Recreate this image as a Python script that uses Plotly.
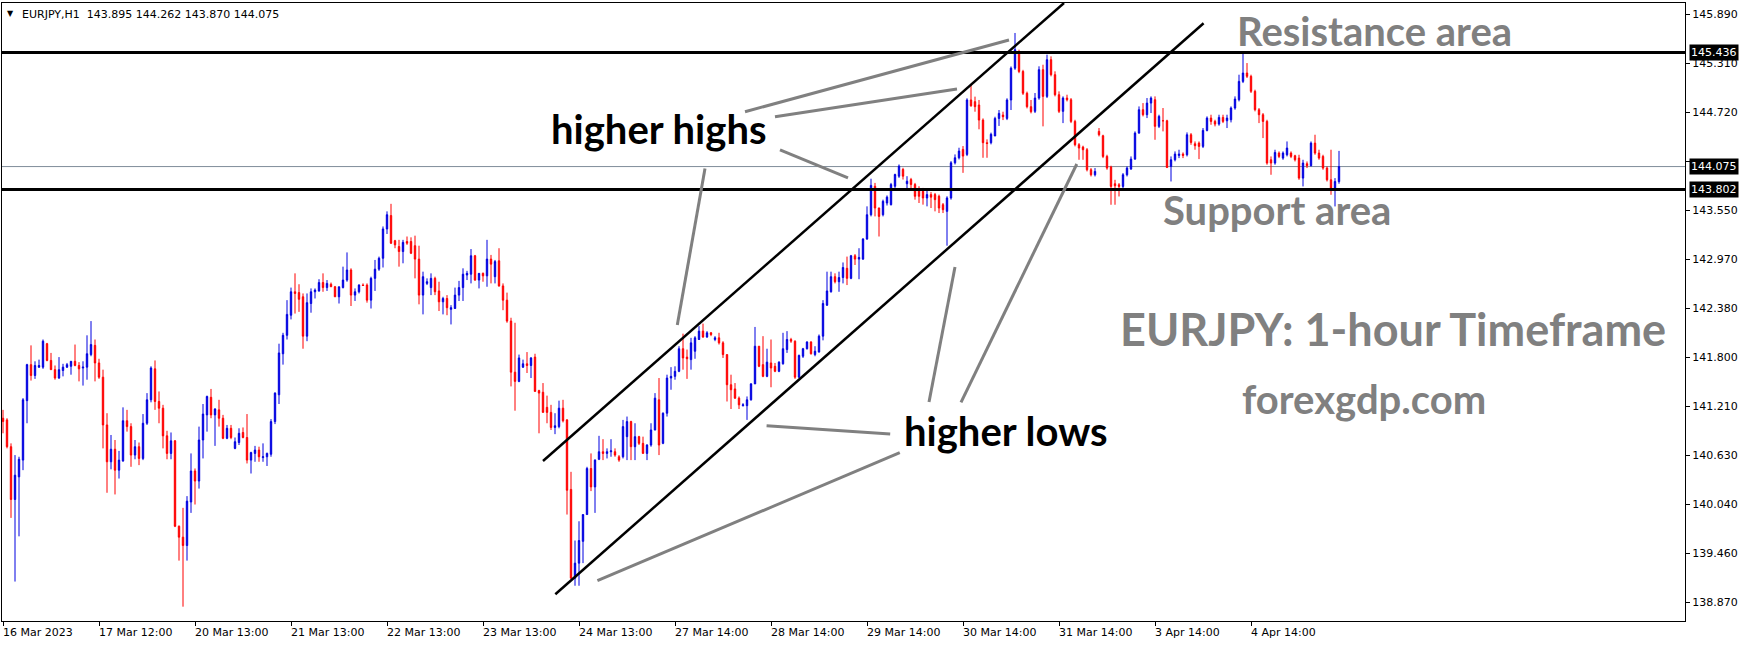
import plotly.graph_objects as go

# ---------------- data ----------------
x_tick_labels = ["16 Mar 2023", "17 Mar 12:00", "20 Mar 13:00", "21 Mar 13:00", "22 Mar 13:00",
                 "23 Mar 13:00", "24 Mar 13:00", "27 Mar 14:00", "28 Mar 14:00", "29 Mar 14:00",
                 "30 Mar 14:00", "31 Mar 14:00", "3 Apr 14:00", "4 Apr 14:00"]
x_tick_bars = [0, 24, 48, 72, 96, 120, 144, 168, 192, 216, 240, 264, 288, 312]
y_tick_values = [145.890, 145.310, 144.720, 144.140, 143.550, 142.970, 142.380,
                 141.800, 141.210, 140.630, 140.040, 139.460, 138.870]
# 144.140 sits under the 144.075 price box in the reference
y_tick_text = ["145.890", "145.310", "144.720", "", "143.550", "142.970", "142.380",
               "141.800", "141.210", "140.630", "140.040", "139.460", "138.870"]

open_ = [
 141.07,141.05,140.73,140.10,140.37,140.57,141.28,141.71,141.58,141.68,
 141.68,141.96,141.76,141.65,141.55,141.64,141.68,141.69,141.75,141.70,
 141.67,141.68,141.83,141.94,141.73,141.56,140.99,140.55,140.70,140.45,
 140.56,141.04,140.97,140.63,140.73,140.59,141.01,141.29,141.66,141.27,
 141.19,140.86,140.65,140.80,139.78,139.65,139.55,140.07,140.44,140.32,
 140.81,141.11,141.32,141.11,141.17,141.07,140.83,140.95,140.71,140.78,
 140.90,140.84,140.57,140.65,140.69,140.60,140.61,140.64,141.03,141.35,
 141.84,142.06,142.30,142.58,142.57,142.52,142.05,142.44,142.58,142.59,
 142.69,142.63,142.67,142.64,142.52,142.63,142.72,142.84,142.54,142.58,
 142.66,142.66,142.48,142.74,142.85,142.98,143.33,143.49,143.19,143.12,
 143.06,143.18,143.18,143.13,142.97,142.54,142.68,142.63,142.74,142.59,
 142.46,142.50,142.37,142.38,142.54,142.63,142.78,142.79,143.01,142.72,
 142.80,142.77,142.97,142.76,142.95,142.65,142.48,142.23,141.62,141.51,
 141.68,141.72,141.70,141.80,141.40,141.38,141.20,141.14,140.96,140.97,
 141.19,141.05,140.22,139.16,139.34,139.60,139.92,140.47,140.25,140.58,
 140.67,140.65,140.67,140.67,140.61,140.61,140.85,141.03,140.73,140.85,
 140.77,140.65,140.75,140.93,141.29,140.77,141.13,141.55,141.57,141.63,
 141.90,141.80,141.77,141.87,142.01,142.11,142.04,142.09,142.01,142.03,
 141.97,141.83,141.47,141.42,141.31,141.22,141.22,141.29,141.48,141.93,
 141.71,141.57,141.73,141.69,141.63,141.72,141.89,142.01,141.99,141.56,
 141.81,141.90,141.98,141.83,141.86,142.05,142.42,142.58,142.76,142.70,
 142.75,142.86,142.74,143.01,142.97,142.97,143.21,143.50,143.84,143.58,
 143.50,143.64,143.62,143.84,143.96,144.04,143.87,143.92,143.86,143.80,
 143.78,143.70,143.74,143.74,143.72,143.62,143.54,143.70,144.12,144.18,
 144.28,144.22,144.87,144.85,144.81,144.63,144.36,144.36,144.44,144.65,
 144.69,144.65,144.87,145.25,145.43,145.21,144.95,144.79,144.734,144.893,
 145.232,144.913,145.351,145.172,144.933,144.734,144.893,144.873,144.614,144.336,
 144.308,144.276,144.037,143.977,144.495,144.443,144.196,144.069,143.870,143.858,
 143.838,143.977,144.045,144.164,144.475,144.754,144.694,144.833,144.873,144.555,
 144.622,144.622,144.077,144.156,144.208,144.224,144.216,144.455,144.347,144.355,
 144.316,144.507,144.654,144.614,144.582,144.662,144.622,144.634,144.774,144.873,
 145.092,145.192,145.152,144.973,144.754,144.694,144.614,144.156,144.117,144.236,
 144.176,144.216,144.236,144.204,144.176,143.937,144.109,144.085,144.355,144.236,
 144.196,144.057,143.917,143.818,143.895]

high = [
 141.17,141.07,140.77,140.63,140.61,141.31,141.72,141.94,141.75,141.77,
 142.01,141.97,141.85,141.70,141.80,141.72,141.73,141.75,141.95,141.74,
 141.75,142.06,142.23,142.01,141.78,141.65,141.13,140.87,140.81,140.68,
 141.20,141.17,141.01,140.81,140.78,141.12,141.37,141.69,141.76,141.39,
 141.23,140.92,140.90,140.81,139.79,140.00,140.14,140.65,140.47,140.97,
 141.24,141.34,141.42,141.19,141.29,141.11,140.99,140.99,140.84,140.95,
 140.96,141.12,140.67,140.74,140.73,140.77,140.66,141.06,141.38,141.96,
 142.09,142.48,142.63,142.80,142.67,142.56,142.56,142.62,142.62,142.73,
 142.80,142.72,142.69,142.65,142.64,142.88,143.05,142.86,142.62,142.67,
 142.68,142.68,142.76,142.96,143.00,143.36,143.54,143.63,143.20,143.20,
 143.20,143.24,143.23,143.25,143.13,142.82,142.74,142.80,142.76,142.70,
 142.52,142.54,142.42,142.63,142.71,142.86,142.83,143.09,143.02,142.80,
 142.81,143.20,143.02,142.96,143.10,142.68,142.57,142.27,142.21,141.83,
 141.77,141.86,141.80,141.84,141.41,141.49,141.34,141.23,141.13,141.28,
 141.29,141.06,140.43,139.61,139.84,139.92,140.49,140.65,140.58,140.86,
 140.82,140.71,140.82,140.71,140.63,141.05,141.09,141.04,141.01,140.86,
 140.85,140.76,141.01,141.37,141.55,141.14,141.59,141.68,141.69,141.93,
 142.08,141.89,142.03,142.05,142.17,142.20,142.11,142.10,142.05,142.09,
 141.99,141.83,141.59,141.49,141.33,141.25,141.33,141.49,142.16,141.93,
 142.05,141.90,142.01,141.73,141.75,142.09,142.11,142.03,142.00,141.83,
 141.91,141.99,141.99,141.93,142.07,142.48,142.82,142.82,142.80,142.82,
 142.93,143.00,143.02,143.03,143.10,143.22,143.60,143.93,143.88,143.585,
 143.68,143.73,143.88,143.99,144.10,144.06,143.96,143.94,143.88,143.84,
 143.82,143.80,143.77,143.76,143.74,143.64,143.72,144.14,144.22,144.30,
 144.32,144.89,145.05,144.91,144.87,144.65,144.40,144.48,144.67,144.75,
 144.73,144.89,145.27,145.67,145.47,145.23,144.97,144.87,144.953,145.272,
 145.291,145.411,145.391,145.212,144.973,144.913,144.933,144.893,144.634,144.355,
 144.324,144.296,144.057,144.057,144.535,144.455,144.216,144.085,143.917,143.878,
 143.997,144.077,144.196,144.495,144.793,144.833,144.893,144.913,144.913,144.694,
 144.774,144.634,144.196,144.256,144.276,144.244,144.483,144.475,144.375,144.375,
 144.535,144.674,144.694,144.634,144.694,144.694,144.694,144.793,144.913,145.172,
 145.431,145.311,145.172,144.993,144.774,144.714,144.634,144.196,144.276,144.256,
 144.256,144.375,144.256,144.216,144.216,144.156,144.136,144.375,144.455,144.276,
 144.216,144.077,144.276,143.937,144.262]

low = [
 140.89,140.71,139.88,139.12,139.66,140.45,141.01,141.52,141.54,141.67,
 141.66,141.75,141.65,141.53,141.54,141.57,141.67,141.59,141.69,141.51,
 141.46,141.53,141.81,141.51,141.54,140.71,140.18,140.46,140.16,140.35,
 140.55,140.91,140.49,140.58,140.51,140.57,140.99,141.26,141.17,141.01,
 140.71,140.58,140.58,139.77,139.37,138.82,139.37,139.94,140.04,140.23,
 140.59,140.91,141.07,140.74,140.97,140.82,140.82,140.82,140.70,140.75,
 140.83,140.53,140.41,140.55,140.55,140.55,140.50,140.61,141.00,141.24,
 141.71,142.01,142.25,142.32,142.34,141.90,141.99,142.33,142.50,142.58,
 142.58,142.59,142.64,142.52,142.44,142.62,142.70,142.41,142.47,142.56,
 142.65,142.45,142.38,142.59,142.83,142.87,143.27,143.15,143.10,142.88,
 142.92,143.14,143.03,142.74,142.43,142.31,142.66,142.54,142.54,142.35,
 142.31,142.30,142.19,142.38,142.47,142.47,142.72,142.68,142.71,142.62,
 142.70,142.64,142.68,142.68,142.64,142.36,142.21,141.45,141.16,141.50,
 141.67,141.61,141.55,141.39,140.89,141.14,141.01,140.93,140.88,140.95,
 141.02,139.92,139.15,139.07,139.07,139.34,139.92,140.20,139.94,140.57,
 140.57,140.59,140.61,140.61,140.55,140.59,140.57,140.57,140.57,140.75,
 140.65,140.57,140.73,140.925,140.63,140.76,141.09,141.41,141.53,141.62,
 141.65,141.54,141.65,141.78,142.006,142.03,142.03,142.05,141.99,141.95,
 141.79,141.27,141.18,141.30,141.18,141.21,141.05,141.28,141.48,141.68,
 141.56,141.56,141.44,141.62,141.62,141.71,141.85,141.97,141.54,141.55,
 141.79,141.89,141.83,141.81,141.855,142.00,142.41,142.57,142.68,142.58,
 142.68,142.66,142.73,142.90,142.73,142.96,143.20,143.48,143.48,143.24,
 143.48,143.61,143.61,143.82,143.94,143.92,143.80,143.80,143.68,143.64,
 143.62,143.60,143.58,143.54,143.52,143.52,143.13,143.68,144.10,144.16,
 144.00,144.20,144.79,144.73,144.52,144.18,144.18,144.34,144.44,144.56,
 144.63,144.63,144.75,145.23,145.19,144.93,144.77,144.71,144.714,144.873,
 144.555,144.893,145.152,144.913,144.714,144.594,144.853,144.594,144.316,144.156,
 144.156,144.017,143.957,143.957,144.435,144.176,144.037,143.619,143.619,143.718,
 143.818,143.957,144.037,144.156,144.467,144.674,144.654,144.714,144.395,144.535,
 144.495,144.057,143.897,144.137,144.176,144.176,144.196,144.335,144.276,144.164,
 144.296,144.495,144.574,144.555,144.563,144.594,144.535,144.602,144.754,144.853,
 145.072,145.132,144.953,144.734,144.594,144.415,144.097,143.977,144.097,144.176,
 144.156,144.196,144.176,144.136,143.917,143.838,144.057,144.077,144.216,144.156,
 144.037,143.897,143.738,143.599,143.870]

close = [
 141.03,140.73,140.10,140.39,140.58,141.29,141.71,141.58,141.70,141.70,
 141.99,141.76,141.65,141.55,141.65,141.68,141.71,141.75,141.70,141.66,
 141.68,141.84,141.95,141.73,141.56,140.99,140.55,140.70,140.45,140.57,
 141.04,140.97,140.63,140.73,140.59,141.01,141.29,141.67,141.27,141.19,
 140.86,140.65,140.80,139.78,139.65,139.55,140.08,140.44,140.32,140.81,
 141.12,141.33,141.11,141.18,141.07,140.83,140.95,140.84,140.79,140.89,
 140.84,140.57,140.66,140.69,140.61,140.61,140.65,141.03,141.37,141.85,
 142.06,142.31,142.58,142.56,142.49,142.05,142.45,142.58,142.60,142.69,
 142.63,142.68,142.64,142.52,142.64,142.72,142.84,142.54,142.58,142.66,
 142.655,142.48,142.74,142.85,142.98,143.33,143.50,143.16,143.14,143.06,
 143.17,143.16,143.04,142.97,142.54,142.76,142.70,142.74,142.58,142.46,
 142.50,142.39,142.39,142.54,142.63,142.79,142.80,143.01,142.72,142.80,
 142.77,142.97,142.91,142.94,142.65,142.48,142.23,141.62,141.51,141.79,
 141.72,141.70,141.79,141.39,141.37,141.14,141.14,140.96,140.98,141.19,
 141.04,140.21,139.16,139.34,139.61,139.92,140.47,140.25,140.57,140.67,
 140.65,140.67,140.68,140.63,140.57,140.97,141.03,140.73,140.85,140.77,
 140.65,140.75,140.93,141.31,140.75,141.13,141.55,141.57,141.63,141.90,
 141.79,141.78,141.97,142.03,142.11,142.04,142.09,142.07,142.03,141.97,
 141.83,141.47,141.41,141.31,141.23,141.23,141.29,141.48,141.93,141.69,
 141.57,141.74,141.67,141.63,141.74,141.90,142.01,141.99,141.56,141.82,
 141.90,141.98,141.84,141.87,142.05,142.44,142.59,142.76,142.70,142.75,
 142.87,142.74,143.01,142.97,142.99,143.21,143.50,143.85,143.58,143.48,
 143.66,143.71,143.86,143.98,144.08,143.96,143.90,143.86,143.72,143.72,
 143.70,143.74,143.71,143.68,143.58,143.56,143.70,144.12,144.18,144.26,
 144.20,144.87,144.80,144.79,144.63,144.36,144.35,144.46,144.65,144.71,
 144.67,144.87,145.25,145.47,145.21,144.95,144.79,144.73,144.893,145.232,
 144.913,145.351,145.172,144.933,144.734,144.893,144.873,144.614,144.336,144.296,
 144.276,144.037,143.977,144.017,144.455,144.196,144.057,143.838,143.846,143.838,
 143.977,144.057,144.164,144.475,144.754,144.694,144.833,144.893,144.555,144.674,
 144.622,144.065,144.156,144.224,144.224,144.208,144.455,144.363,144.324,144.316,
 144.507,144.654,144.614,144.582,144.662,144.614,144.654,144.774,144.881,145.092,
 145.192,145.152,144.973,144.754,144.694,144.614,144.117,144.117,144.244,144.196,
 144.236,144.296,144.196,144.156,143.937,144.117,144.085,144.355,144.236,144.176,
 144.057,143.917,143.818,143.897,144.075]

resistance_level = 145.436
support_level = 143.802
last_price = 144.075
header_text = "EURJPY,H1\u00a0\u00a0143.895 144.262 143.870 144.075"

# drawing objects on the chart, in (bar, price)
channel_upper = [(135.0, 140.560), (265.25, 146.028)]
channel_lower = [(138.08, 138.968), (300.15, 145.786)]
pointer_lines = [
    [(185.5, 144.730), (251.5, 145.586)],
    [(193.0, 144.671), (238.5, 145.001)],
    [(194.25, 144.273), (211.25, 143.939)],
    [(175.5, 144.052), (168.575, 142.183)],
    [(190.9, 140.981), (221.8, 140.882)],
    [(148.6, 139.130), (224.2, 140.659)],
    [(231.5, 141.264), (238.0, 142.876)],
    [(239.5, 141.260), (268.45, 144.106)],
]
labels = [
    ("higher highs", 164.1, 144.518, "black", 40),
    ("higher lows", 250.75, 140.915, "black", 40),
    ("Resistance area", 342.9, 145.691, "#808080", 40),
    ("Support area", 318.5, 143.551, "#808080", 40),
    ("EURJPY: 1-hour Timeframe", 347.4, 142.132, "#808080", 45),
    ("forexgdp.com", 340.25, 141.294, "#808080", 40),
]

# ---------------- figure ----------------
BLUE = "#0000e0"
RED = "#ff0000"
AXFONT = dict(family="DejaVu Sans", size=11, color="black")

bars = list(range(len(open_)))

fig = go.Figure()
fig.add_trace(go.Candlestick(
    x=bars, open=open_, high=high, low=low, close=close,
    increasing=dict(line=dict(color=BLUE, width=1), fillcolor=BLUE),
    decreasing=dict(line=dict(color=RED, width=1), fillcolor=RED),
    whiskerwidth=0, hoverinfo="skip", showlegend=False))

shapes = []
shapes.append(dict(type="line", xref="paper", x0=0, x1=1, yref="y", y0=last_price, y1=last_price,
                   line=dict(color="#7f8c99", width=1), layer="below"))
for lvl in (resistance_level, support_level):
    shapes.append(dict(type="line", xref="paper", x0=0, x1=1, yref="y", y0=lvl, y1=lvl,
                       line=dict(color="black", width=3)))
for (a, b) in (channel_upper, channel_lower):
    shapes.append(dict(type="line", xref="x", yref="y", x0=a[0], y0=a[1], x1=b[0], y1=b[1],
                       line=dict(color="black", width=2.5)))
for (a, b) in pointer_lines:
    shapes.append(dict(type="line", xref="x", yref="y", x0=a[0], y0=a[1], x1=b[0], y1=b[1],
                       line=dict(color="#808080", width=3)))

ann = []
for txt, xb, yp, col, sz in labels:
    ann.append(dict(x=xb, y=yp, xref="x", yref="y", text="<b>%s</b>" % txt, showarrow=False,
                    xanchor="center", yanchor="middle",
                    font=dict(family="Lato", size=sz, color=col)))
for b, t in zip(x_tick_bars, x_tick_labels):
    ann.append(dict(x=b, y=0, xref="x", yref="paper", text=t, showarrow=False,
                    xanchor="left", yanchor="top", yshift=-3, xshift=-2, font=AXFONT))
for v in (resistance_level, last_price, support_level):
    ann.append(dict(x=1, y=v, xref="paper", yref="y", text="%.3f" % v, showarrow=False,
                    xanchor="left", yanchor="middle", xshift=4, bgcolor="black", borderpad=1,
                    font=dict(family="DejaVu Sans", size=11, color="white")))
ann.append(dict(x=0, y=1, xref="paper", yref="paper", text="\u25bc", showarrow=False,
                xanchor="left", yanchor="top", xshift=3, yshift=-4,
                font=dict(family="DejaVu Sans", size=8, color="black")))
ann.append(dict(x=0, y=1, xref="paper", yref="paper", text=header_text, showarrow=False,
                xanchor="left", yanchor="top", xshift=18, yshift=-3, font=AXFONT))

fig.update_layout(
    width=1749, height=645,
    margin=dict(l=2, r=64, t=3, b=24),
    paper_bgcolor="white", plot_bgcolor="white",
    showlegend=False, boxgap=0.5,
    shapes=shapes, annotations=ann,
    xaxis=dict(range=[-0.25, 420.5], showgrid=False, zeroline=False,
               showline=True, mirror=True, linecolor="black", linewidth=1,
               ticks="outside", ticklen=4, tickcolor="black",
               tickvals=x_tick_bars, showticklabels=False,
               rangeslider=dict(visible=False), fixedrange=True),
    yaxis=dict(range=[138.649, 146.028], side="right", showgrid=False, zeroline=False,
               showline=True, mirror=True, linecolor="black", linewidth=1,
               ticks="outside", ticklen=4, tickcolor="black",
               tickvals=y_tick_values, ticktext=y_tick_text, tickfont=AXFONT,
               automargin=False, fixedrange=True),
)

fig.write_html(
    "out.html",
    config={"displayModeBar": False, "staticPlot": True},
    post_script="document.body.style.margin='0';document.body.style.padding='0';"
                "document.body.style.overflow='hidden';",
)
